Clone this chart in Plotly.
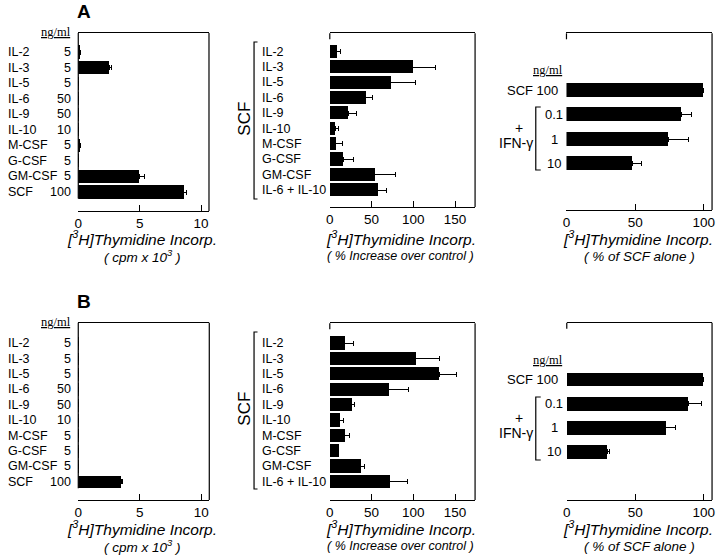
import plotly.graph_objects as go

# ---- data ----
left_names = ["IL-2", "IL-3", "IL-5", "IL-6", "IL-9", "IL-10", "M-CSF", "G-CSF", "GM-CSF", "SCF"]
left_doses = ["5", "5", "5", "50", "50", "10", "5", "5", "5", "100"]
a_left_cpm = [0.15, 2.53, 0.02, 0.02, 0.05, 0.05, 0.12, 0.02, 4.95, 8.6]
a_left_err = [0.05, 0.15, 0, 0, 0, 0, 0.05, 0, 0.45, 0.2]
b_left_cpm = [0.03, 0.03, 0.03, 0.03, 0.03, 0.03, 0.03, 0.03, 0.03, 3.48]
b_left_err = [0, 0, 0, 0, 0, 0, 0, 0, 0, 0.15]

mid_names = ["IL-2", "IL-3", "IL-5", "IL-6", "IL-9", "IL-10", "M-CSF", "G-CSF", "GM-CSF", "IL-6 + IL-10"]
a_mid_pct = [8, 99, 73, 43, 22, 6.5, 7, 16, 54, 57]
a_mid_err = [4.5, 28, 30, 8, 10, 4, 8.5, 12, 25, 11]
b_mid_pct = [18, 103, 131, 70.5, 26.5, 12, 18, 10.5, 37, 72]
b_mid_err = [10, 28, 21, 24, 2.5, 5, 5.5, 0, 5, 21]

right_labels = ["SCF 100", "0.1", "1", "10"]
a_right_pct = [100, 83.5, 74, 48]
a_right_err = [0, 7.5, 14.5, 6.5]
b_right_pct = [99.5, 88.5, 72, 29.5]
b_right_err = [0.5, 10, 7.5, 2]

W, H = 720, 556
SANS = "Liberation Sans, Arial, sans-serif"
SERIF = "Liberation Serif, Times New Roman, serif"


def px(x):
    return x / W


def py(y):
    return 1 - y / H


fig = go.Figure()
shapes = []
annotations = []
layout = {}


def line(x0, y0, x1, y1, w=1.2):
    shapes.append(dict(type="line", xref="paper", yref="paper",
                       x0=px(x0), y0=py(y0), x1=px(x1), y1=py(y1),
                       line=dict(color="black", width=w)))


def text(x, y, s, size=12.5, xanchor="center", family=SANS, angle=0, yref="paper"):
    annotations.append(dict(x=px(x), y=py(y) if yref == "paper" else y,
                            xref="paper", yref=yref, text=s, showarrow=False,
                            xanchor=xanchor, yanchor="middle", textangle=angle,
                            font=dict(family=family, size=size, color="black")))


def panel(n, vals, errs, box, row0, row1, xmax, tickvals, barw, full_left):
    left, top, right, bottom = box
    nrows = len(vals)
    step = (row1 - row0) / (nrows - 1)
    ytop = -(row0 - top) / step
    ybot = (nrows - 1) + (bottom - row1) / step
    xs = "" if n == 1 else str(n)
    fig.add_trace(go.Bar(
        x=vals, y=list(range(nrows)), orientation="h", width=barw,
        marker=dict(color="black", line=dict(width=0)),
        error_x=dict(type="data", array=errs, arrayminus=[0] * nrows, symmetric=False,
                     color="black", thickness=1, width=2.5),
        xaxis="x" + xs, yaxis="y" + xs, showlegend=False))
    layout["xaxis" + xs] = dict(
        domain=[px(left), px(right)], range=[0, xmax], anchor="y" + xs,
        showline=True, mirror=True, linecolor="black", linewidth=1.2,
        ticks="inside", ticklen=6, tickwidth=1.2, tickcolor="black",
        tickvals=tickvals, showgrid=False, zeroline=False,
        tickfont=dict(family=SANS, size=13.5, color="black"))
    layout["yaxis" + xs] = dict(
        domain=[py(bottom), py(top)], range=[ybot, ytop], anchor="x" + xs,
        showticklabels=False, showgrid=False, zeroline=False, showline=False, ticks="")
    line(right, top, right, bottom)
    if full_left:
        line(left, top, left, row1 + step * 0.42)
    else:
        line(left, top, left, top + 6)
    return "y" + xs


# ---- panel A ----
ya1 = panel(1, a_left_cpm, a_left_err, (75, 33, 207, 211), 52, 192, 10.65, [0, 5, 10], 0.84, True)
ya2 = panel(2, a_mid_pct, a_mid_err, (329, 33.3, 475.7, 207), 51.7, 190, 174, [0, 50, 100, 150], 0.86, False)
ya3 = panel(3, a_right_pct, a_right_err, (568, 33.3, 715, 210), 90.3, 163.7, 106, [0, 50, 100], 0.57, False)
# ---- panel B ----
yb1 = panel(4, b_left_cpm, b_left_err, (75, 322.7, 207.3, 500), 343.3, 481.7, 10.65, [0, 5, 10], 0.84, True)
yb2 = panel(5, b_mid_pct, b_mid_err, (329, 323.3, 475.7, 500), 343.3, 481.7, 174, [0, 50, 100, 150], 0.86, False)
yb3 = panel(6, b_right_pct, b_right_err, (568.3, 322.7, 715, 500), 379.3, 451.7, 106, [0, 50, 100], 0.57, False)

for dy, (yl, ym, yr), tag in [(0, (ya1, ya2, ya3), "A"), (290, (yb1, yb2, yb3), "B")]:
    text(80.5, 11.7 + dy, "<b>%s</b>" % tag, size=19)
    # left panel labels
    text(70, 32 + dy, "<u>ng/ml</u>", size=12.5, xanchor="right", family=SERIF)
    for i, (nm, d) in enumerate(zip(left_names, left_doses)):
        text(2.5, i, nm, xanchor="left", yref=yl)
        text(69.5, i, d, xanchor="right", yref=yl)
    # middle panel labels
    for i, nm in enumerate(mid_names):
        text(259, i, nm, xanchor="left", yref=ym)
    text(242, 119 + dy, "SCF", size=17, angle=-90)
    b0, b1 = 42 + dy, 199 + dy
    shapes.append(dict(type="path", xref="paper", yref="paper",
                       path="M %f %f L %f %f L %f %f L %f %f" % (
                           px(256), py(b0), px(252.5), py(b0), px(252.5), py(b1), px(256), py(b1)),
                       line=dict(color="black", width=1.2)))
    # right panel labels
    text(566.5, 70 + dy, "<u>ng/ml</u>", size=12.5, xanchor="right", family=SERIF)
    text(561.5, 0, right_labels[0], size=13, xanchor="right", yref=yr)
    for i, lab in enumerate(right_labels[1:], start=1):
        text(555.5, i, lab, size=13, yref=yr)
    r0, r1 = 107 + dy, 170 + dy
    shapes.append(dict(type="path", xref="paper", yref="paper",
                       path="M %f %f L %f %f L %f %f L %f %f" % (
                           px(542), py(r0), px(537), py(r0), px(537), py(r1), px(542), py(r1)),
                       line=dict(color="black", width=1.2)))
    text(520, 128 + dy, "+", size=14)
    text(517.5, 143 + dy, "IFN-γ", size=14)
    # axis titles
    t1 = "<i>[<sup>3</sup>H]Thymidine Incorp.</i>"
    text(139, 238 + dy, t1, size=15.5)
    text(140, 256 + dy, "<i>( cpm x 10<sup>3</sup> )</i>", size=13.5)
    text(401, 238 + dy, t1, size=15.5)
    text(400, 256 + dy, "<i>( % Increase over control )</i>", size=12.5)
    text(640, 238 + dy, t1, size=15.5)
    text(642, 256 + dy, "<i>( % of SCF alone )</i>", size=13.5)

fig.update_layout(
    width=W, height=H, margin=dict(l=0, r=0, t=0, b=0),
    paper_bgcolor="white", plot_bgcolor="white",
    font=dict(family=SANS, color="black"),
    shapes=shapes, annotations=annotations, bargap=0, **layout)

fig.write_html("out.html", config={"displayModeBar": False},
               post_script="document.body.style.margin='0';")
